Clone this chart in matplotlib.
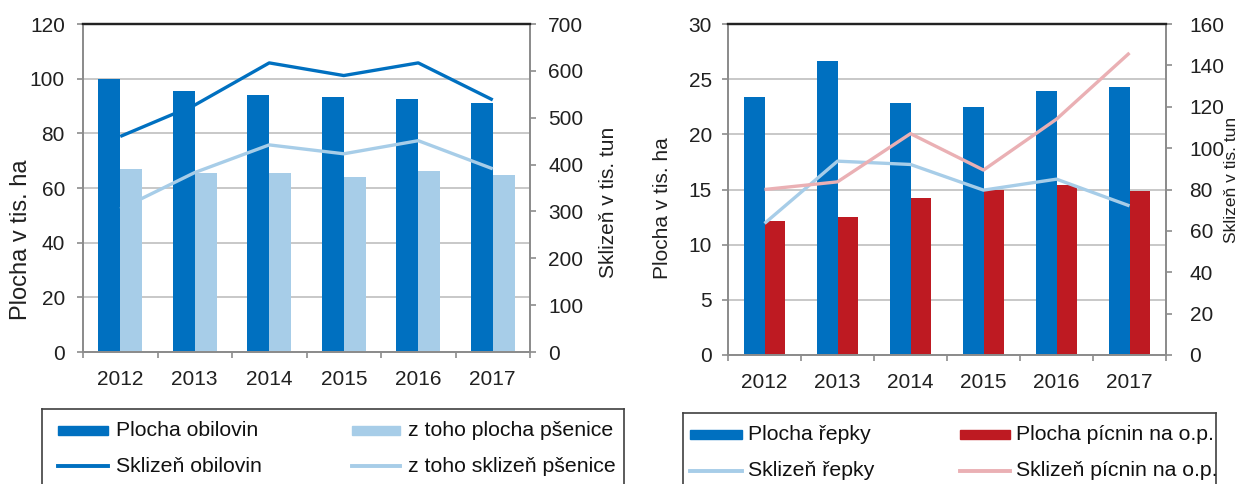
import matplotlib
matplotlib.use('Agg')
import matplotlib.pyplot as plt
import numpy as np
from matplotlib.patches import Rectangle
from matplotlib.lines import Line2D

plt.rcParams['font.family'] = ['Liberation Sans', 'DejaVu Sans']

# data
years = ['2012', '2013', '2014', '2015', '2016', '2017']
plocha_obilovin = [100.0, 95.4, 93.9, 93.2, 92.5, 91.0]
plocha_psenice = [66.9, 65.4, 65.4, 64.0, 66.2, 64.8]
sklizen_obilovin = [460, 527, 617, 590, 617, 538]
sklizen_psenice = [305, 383, 442, 423, 451, 391]

plocha_repky = [23.4, 26.65, 22.8, 22.45, 23.9, 24.3]
plocha_picnin = [12.1, 12.5, 14.2, 15.0, 15.4, 14.9]
sklizen_repky = [63.6, 93.7, 92.1, 79.7, 85.0, 72.1]
sklizen_picnin = [80.0, 83.7, 107.0, 89.4, 114.0, 146.0]

DARK = '#0070c0'
LIGHT = '#a7cde8'
RED = '#be1a22'
PINK = '#eab0b4'
GRAY = '#8c8c8c'
TXT = '#202020'

W, H = 1252, 484
fig = plt.figure(figsize=(W / 100, H / 100), dpi=100)


def px(x0, y0, x1, y1):
    return [x0 / W, 1 - y1 / H, (x1 - x0) / W, (y1 - y0) / H]


def chart(rect, bars, lines, bar_w, lmax, lstep, rmax, rstep, lpad, rpad):
    ax = fig.add_axes(rect)
    x = np.arange(len(years))
    for i, (vals, col) in enumerate(bars):
        ax.bar(x + (i - 0.5) * bar_w, vals, width=bar_w, color=col, zorder=2)
    ax.set_xlim(-0.5, len(years) - 0.5)
    ax.set_ylim(0, lmax)
    ax.set_yticks(np.arange(0, lmax + 0.01, lstep))
    ax.grid(axis='y', color='#c4c4c4', lw=1.3)
    ax.set_axisbelow(True)
    ax.set_xticks(x)
    ax.set_xticklabels(years)
    ax.set_xticks(np.arange(-0.5, len(years), 1), minor=True)
    ax.tick_params(axis='x', which='major', length=0, pad=13, labelsize=15, labelcolor=TXT)
    ax.tick_params(axis='x', which='minor', length=4.5, width=1.2, color=GRAY)
    ax.tick_params(axis='y', length=4.5, width=1.2, color=GRAY, pad=lpad, labelsize=15, labelcolor=TXT)

    ax2 = ax.twinx()
    for vals, col in lines:
        ax2.plot(x, vals, color=col, lw=2.4, solid_capstyle='butt', zorder=3)
    ax2.set_ylim(0, rmax)
    ax2.set_yticks(np.arange(0, rmax + 0.01, rstep))
    ax2.tick_params(axis='y', length=4.5, width=1.2, color=GRAY, pad=rpad, labelsize=15, labelcolor=TXT)
    for a in (ax, ax2):
        for s in ('left', 'right', 'bottom'):
            a.spines[s].set_color(GRAY)
            a.spines[s].set_linewidth(1.3)
        a.spines['top'].set_color('#222222')
        a.spines['top'].set_linewidth(1.6)
    return ax, ax2


def legend_box(rect, items, cols, rows):
    lg = fig.add_axes(rect)
    lg.set_xticks([])
    lg.set_yticks([])
    lg.patch.set_alpha(0)
    lg.spines['bottom'].set_visible(False)
    for s in ('left', 'right', 'top'):
        lg.spines[s].set_color('#404040')
        lg.spines[s].set_linewidth(1.2)
    tf = fig.transFigure
    for k, (label, col, kind) in enumerate(items):
        h0, h1, tx = cols[k % 2]
        y = 1 - rows[k // 2] / H
        if kind == 'bar':
            fig.patches.append(Rectangle((h0 / W, y - 4.5 / H), (h1 - h0) / W, 9 / H,
                                         transform=tf, color=col))
        else:
            fig.lines.append(Line2D([h0 / W, h1 / W], [y, y], transform=tf, color=col, lw=2.8))
        t = fig.text(tx / W, y, label, fontsize=15.3, color='#111111', va='center', ha='left')
        t.set_clip_box(lg.bbox)
        t.set_clip_on(True)
    return lg


chart(px(83, 24, 530, 352),
      [(plocha_obilovin, DARK), (plocha_psenice, LIGHT)],
      [(sklizen_obilovin, DARK), (sklizen_psenice, LIGHT)],
      0.295, 120, 20, 700, 100, 8.5, 8.5)

chart(px(728, 24, 1166, 355),
      [(plocha_repky, DARK), (plocha_picnin, RED)],
      [(sklizen_repky, LIGHT), (sklizen_picnin, PINK)],
      0.28, 30, 5, 160, 20, 7, 12.5)

fig.text(21 / W, 1 - 240 / H, 'Plocha v tis. ha', rotation=90, fontsize=17, color=TXT,
         ha='center', va='center')
fig.text(609 / W, 1 - 202 / H, 'Sklizeň v tis. tun', rotation=90, fontsize=15, color=TXT,
         ha='center', va='center')
fig.text(662 / W, 1 - 208 / H, 'Plocha v tis. ha', rotation=90, fontsize=15, color=TXT,
         ha='center', va='center')
fig.text(1232 / W, 1 - 180 / H, 'Sklizeň v tis. tun', rotation=90, fontsize=12.5, color=TXT,
         ha='center', va='center')

legend_box(px(42, 409, 624, 490),
           [('Plocha obilovin', DARK, 'bar'), ('z toho plocha pšenice', LIGHT, 'bar'),
            ('Sklizeň obilovin', DARK, 'line'), ('z toho sklizeň pšenice', LIGHT, 'line')],
           [(58, 108, 116), (352, 400, 408)], [430, 466])

legend_box(px(683, 413, 1216, 490),
           [('Plocha řepky', DARK, 'bar'), ('Plocha pícnin na o.p.', RED, 'bar'),
            ('Sklizeň řepky', LIGHT, 'line'), ('Sklizeň pícnin na o.p.', PINK, 'line')],
           [(690, 742, 748), (960, 1010, 1016)], [434, 471])

fig.savefig('out.png', dpi=100)
